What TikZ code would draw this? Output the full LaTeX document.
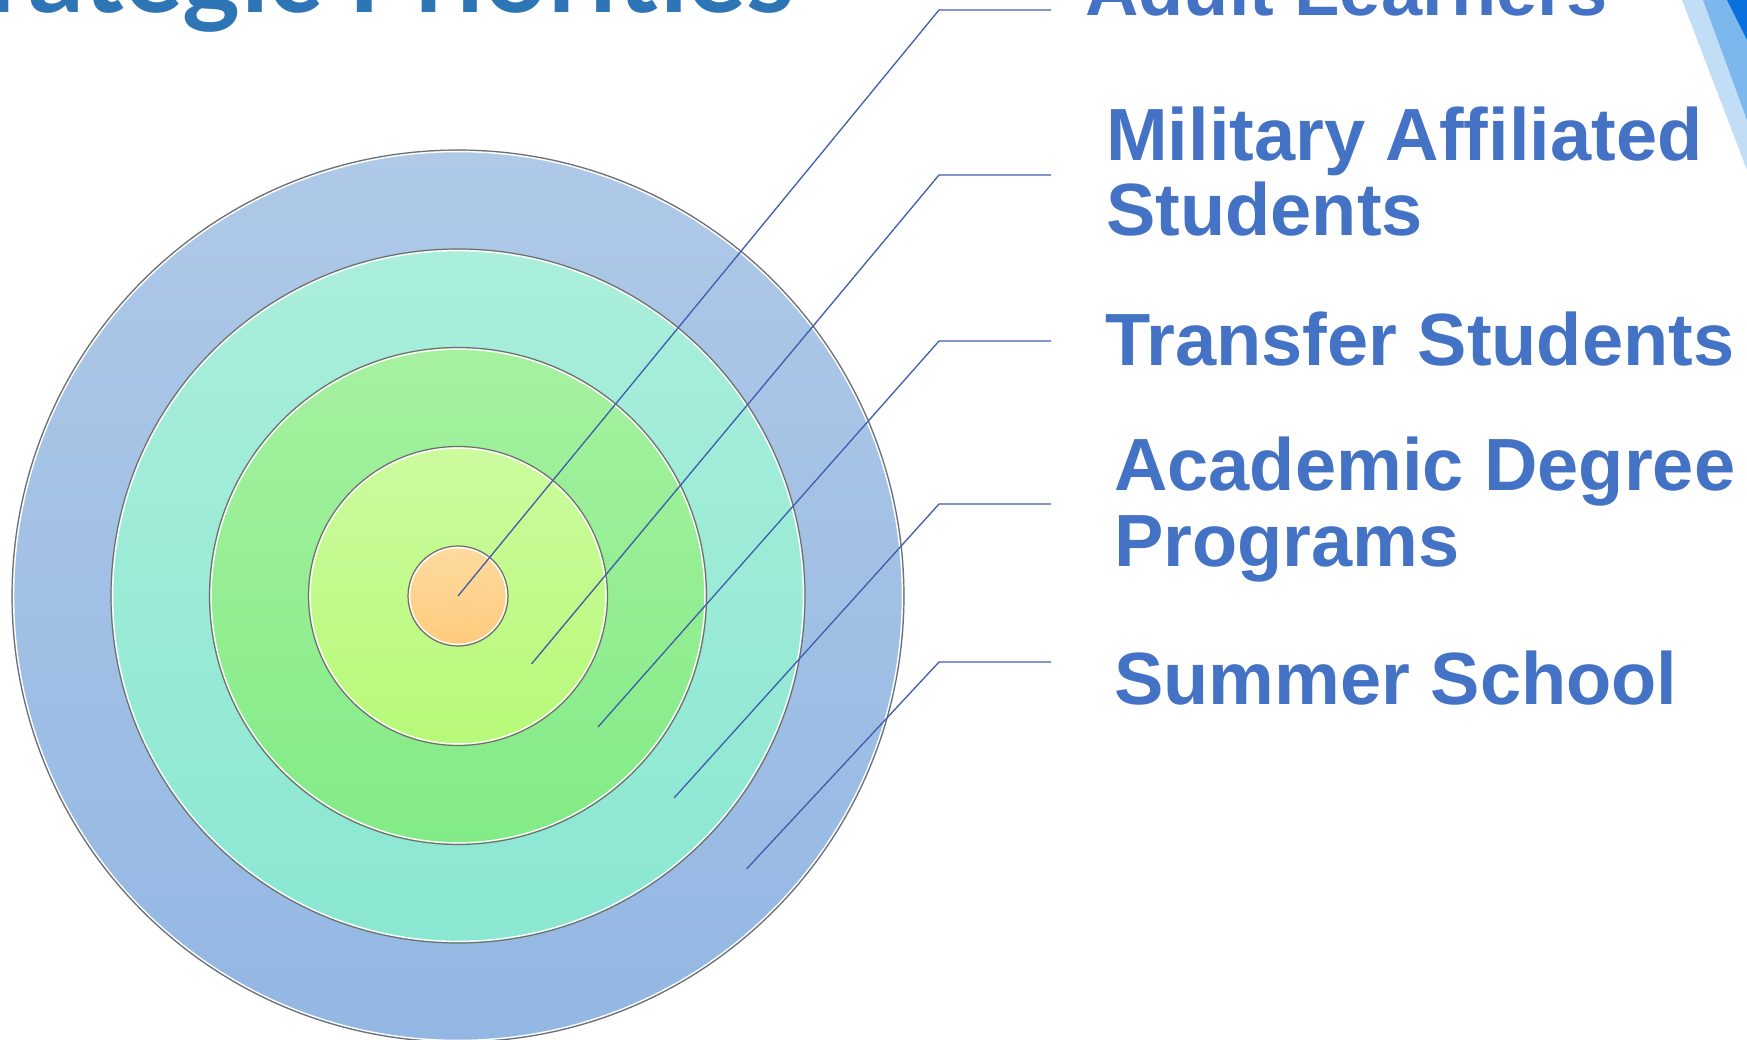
\documentclass[tikz,border=0pt]{standalone}
\usepackage{fontspec}
\newfontfamily\labfont{Liberation Sans}[Ligatures=CommonOff]
\newfontfamily\titlefont{Lato}
\definecolor{labelblue}{HTML}{4472C4}
\definecolor{titleblue}{HTML}{2E75B6}
\definecolor{linkblue}{HTML}{3F5DAA}
\definecolor{ringgray}{HTML}{6E6E6E}
\definecolor{oTop}{HTML}{AFC9E7}
\definecolor{oBot}{HTML}{93B7E3}
\definecolor{aTop}{HTML}{AAEEDB}
\definecolor{aBot}{HTML}{8AE7D2}
\definecolor{bTop}{HTML}{A6F1A0}
\definecolor{bBot}{HTML}{82EB86}
\definecolor{cTop}{HTML}{CCFB9E}
\definecolor{cBot}{HTML}{B7F978}
\definecolor{dTop}{HTML}{FDDB9F}
\definecolor{dBot}{HTML}{FECB7D}
\definecolor{stripeA}{HTML}{C2DDF6}
\definecolor{stripeB}{HTML}{7CB8EE}
\definecolor{stripeC}{HTML}{0A70DD}
\tikzset{
  ringline/.style={draw=ringgray, line width=1.2pt},
  ringinner/.style={draw=white, line width=1.4pt},
  link/.style={draw=linkblue, line width=1.3pt},
  lab/.style={anchor=base west, inner sep=0pt, text=labelblue, align=left,
    font=\labfont\bfseries\fontsize{74}{75.5}\selectfont},
}
\newcommand{\ring}[3]{%
  \shade[top color=#2, bottom color=#3] (c) circle[radius=#1pt];
  \draw[ringinner] (c) circle[radius=#1pt-1.6pt];
  \draw[ringline] (c) circle[radius=#1pt];
}
\begin{document}
\begin{tikzpicture}[x=1pt,y=-1pt]
\useasboundingbox (0,0) rectangle (1747,1040);
\clip (0,0) rectangle (1747,1040);
\fill[white] (0,0) rectangle (1747,1040);
% corner stripes
\fill[stripeA] (1682,0) -- (1747,0) -- (1747,170) -- cycle;
\fill[stripeB] (1703,0) -- (1747,0) -- (1747,120) -- cycle;
\fill[stripeC] (1727,0) -- (1747,0) -- (1747,40) -- cycle;
% title
\node[anchor=base east, inner sep=0pt, text=titleblue,
  font=\titlefont\bfseries\fontsize{110}{118}\selectfont] (title) at (795,12.5) {Strategic Priorities};
% rings
\coordinate (c) at (458,596);
\ring{446}{oTop}{oBot}
\ring{347}{aTop}{aBot}
\ring{248.5}{bTop}{bBot}
\ring{149.5}{cTop}{cBot}
\ring{50}{dTop}{dBot}
% connector points
\coordinate (s1) at (458,596);
\coordinate (s2) at (531.5,664);
\coordinate (s3) at (598,727);
\coordinate (s4) at (674,798);
\coordinate (s5) at (746.5,869);
\coordinate (e1) at (939,10);
\coordinate (e2) at (939,175);
\coordinate (e3) at (939,341);
\coordinate (e4) at (939,504);
\coordinate (e5) at (939,662);
\coordinate (t1) at (1051,10);
\coordinate (t2) at (1051,175);
\coordinate (t3) at (1051,341);
\coordinate (t4) at (1051,504);
\coordinate (t5) at (1051,662);
\draw[link] (s1) -- (e1) -- (t1);
\draw[link] (s2) -- (e2) -- (t2);
\draw[link] (s3) -- (e3) -- (t3);
\draw[link] (s4) -- (e4) -- (t4);
\draw[link] (s5) -- (e5) -- (t5);
% labels (base anchor = baseline of the last line)
\node[lab] (l1) at (1085,16) {Adult Learners};
\node[lab] (l2) at (1106,236) {Military Affiliated\\Students};
\node[lab] (l3) at (1105,365.5) {Transfer Students};
\node[lab] (l4) at (1114,566) {Academic Degree\\Programs};
\node[lab] (l5) at (1114,704) {Summer School};
\end{tikzpicture}
\end{document}
